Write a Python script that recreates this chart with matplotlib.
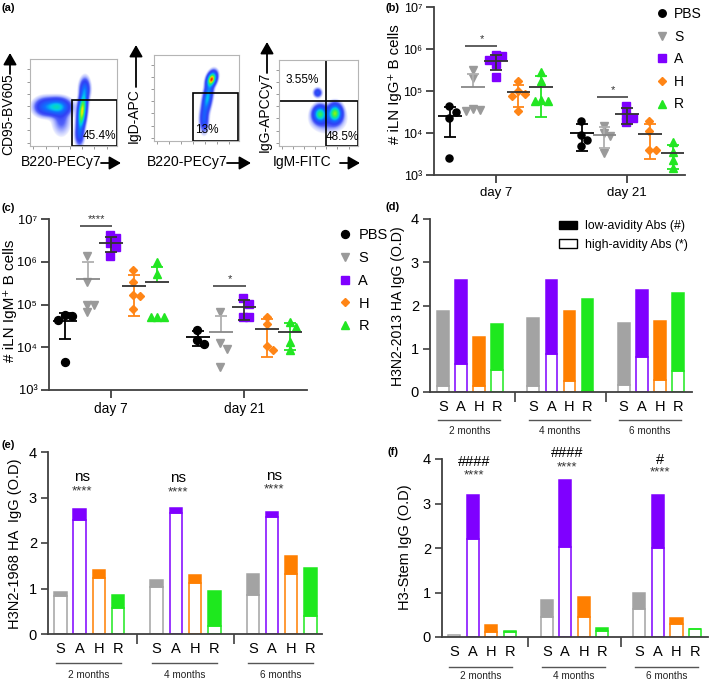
import numpy as np
import matplotlib
matplotlib.use("Agg")
import matplotlib.pyplot as plt
from matplotlib.lines import Line2D
from matplotlib.patches import Patch, Rectangle
from matplotlib.colors import LinearSegmentedColormap

plt.rcParams['font.family'] = ['Liberation Sans', 'DejaVu Sans']

# ======================= DATA =======================
# (a) flow cytometry gates
flow_percent = ["45.4%", "13%", "3.55%", "48.5%"]
# cluster descriptions: (cx, cy, sx, sy, angle_deg, weight)
flow1_clusters = [(0.31, 0.45, 0.085, 0.055, 0, 0.55), (0.16, 0.45, 0.07, 0.06, 0, 0.22),
                  (0.36, 0.30, 0.06, 0.10, 0, 0.10),
                  (0.60, 0.40, 0.028, 0.13, -6, 1.0), (0.63, 0.66, 0.035, 0.07, 0, 0.25),
                  (0.57, 0.12, 0.03, 0.07, 0, 0.18)]
flow2_clusters = [(0.68, 0.72, 0.03, 0.05, -20, 1.0), (0.63, 0.50, 0.03, 0.12, -10, 0.45),
                  (0.59, 0.24, 0.03, 0.08, 0, 0.2)]
flow3_clusters = [(0.52, 0.37, 0.05, 0.055, 0, 0.55), (0.71, 0.38, 0.05, 0.06, 0, 0.65),
                  (0.49, 0.62, 0.03, 0.03, 0, 0.18), (0.62, 0.30, 0.12, 0.08, 0, 0.08)]

# (b)/(c) cell counts
groups = ["PBS", "S", "A", "H", "R"]
days = ["day 7", "day 21"]
igg_day7 = [[4.3e4, 3.2e4, 2.3e4, 2.5e3],
            [3.2e5, 2.0e5, 3.6e4, 3.4e4, 3.8e4],
            [7.3e5, 6.7e5, 5.6e5, 4.3e5, 2.2e5],
            [1.7e5, 1.0e5, 8.5e4, 7.5e4, 3.3e4],
            [2.9e5, 1.7e5, 6.0e4, 5.7e4, 5.7e4]]
igg_day21 = [[1.9e4, 9.0e3, 7.0e3, 5.0e3],
             [1.5e4, 1.0e4, 8.5e3, 3.3e3],
             [4.5e4, 2.7e4, 2.3e4, 1.8e4],
             [1.9e4, 1.1e4, 4.0e3, 4.0e3],
             [6.0e3, 3.6e3, 2.3e3, 1.5e3]]
igm_day7 = [[5.8e4, 5.5e4, 4.3e4, 4.6e3],
            [1.4e6, 3.4e5, 1.0e5, 9.5e4, 6.8e4],
            [4.2e6, 3.5e6, 2.7e6, 2.2e6, 1.4e6],
            [6.4e5, 3.4e5, 1.7e5, 1.6e5, 7.7e4],
            [1.0e6, 5.3e5, 5.1e4, 5.1e4, 5.1e4]]
igm_day21 = [[2.5e4, 1.5e4, 1.2e4],
             [6.8e4, 1.26e4, 9.3e3, 3.4e3],
             [1.4e5, 1.05e5, 5.1e4, 5.0e4],
             [5.1e4, 3.5e4, 1.07e4, 8.5e3],
             [3.9e4, 3.0e4, 1.33e4, 8.4e3]]
igg_sig = ["*", "*"]
igg_sig_level = [1.15e6, 7.2e4]
igm_sig = ["****", "*"]
igm_sig_level = [6.9e6, 2.7e5]

# (d)(e)(f) avidity bars
vaccines = ["S", "A", "H", "R"]
months = ["2 months", "4 months", "6 months"]
h3n2_2013_total = [[1.88, 2.58, 1.27, 1.58], [1.72, 2.58, 1.88, 2.15], [1.59, 2.36, 1.65, 2.28]]
h3n2_2013_high = [[0.15, 0.65, 0.13, 0.50], [0.15, 0.88, 0.26, 0.03], [0.17, 0.80, 0.28, 0.49]]
h3n2_1968_total = [[0.92, 2.74, 1.41, 0.85], [1.19, 2.78, 1.30, 0.95], [1.31, 2.69, 1.72, 1.45]]
h3n2_1968_high = [[0.84, 2.50, 1.23, 0.57], [1.04, 2.67, 1.12, 0.18], [0.86, 2.58, 1.31, 0.40]]
stem_total = [[0.05, 3.20, 0.26, 0.13], [0.83, 3.52, 0.89, 0.21], [0.98, 3.19, 0.43, 0.19]]
stem_high = [[0.05, 2.20, 0.11, 0.11], [0.44, 2.02, 0.45, 0.13], [0.62, 2.00, 0.29, 0.17]]
h1968_low_sig = ["ns", "ns", "ns"]
h1968_high_sig = ["****", "****", "****"]
stem_low_sig = ["####", "####", "#"]
stem_high_sig = ["****", "****", "****"]

# ======================= STYLE =======================
W, H = 709, 680
fig = plt.figure(figsize=(W / 100, H / 100), dpi=100)

def rect(l, t, r, b):
    return [l / W, 1 - b / H, (r - l) / W, (b - t) / H]

ov = fig.add_axes([0, 0, 1, 1], zorder=10)
ov.set_xlim(0, W); ov.set_ylim(H, 0); ov.axis('off'); ov.patch.set_alpha(0)

gcolors = ['black', '#9a9a9a', '#7f00ff', '#ff8516', '#22e622']
gmarkers = ['o', 'v', 's', 'D', '^']
gms = [6, 6.5, 6, 4.8, 6.5]
mean_cols = ['black', '#888888', '#333333', '#333333', '#333333']
bar_cols = ['#a3a3a3', '#7f00ff', '#ff7f00', '#1ee81e']
axcol = '#404040'

# ---- panel labels
for lab, x, y in [("(a)", 2, 8), ("(b)", 385, 8), ("(c)", 2, 208), ("(d)", 385, 207), ("(e)", 2, 445), ("(f)", 387, 452)]:
    ov.text(x, y, lab, fontsize=8, weight='bold', va='center', ha='left')

# ======================= (a) FLOW =======================
fcmap = LinearSegmentedColormap.from_list('flow', [(0, '#8090ff'), (0.12, '#3040f5'), (0.3, '#1070ff'),
                                                   (0.42, '#00c8f0'), (0.56, '#10e890'), (0.7, '#60f030'),
                                                   (0.82, '#f0f000'), (1.0, '#ff1000')])

def flow_density(clusters, n=260):
    g = np.linspace(0, 1, n)
    X, Y = np.meshgrid(g, g)
    Z = np.zeros_like(X)
    for cx, cy, sx, sy, ang, w in clusters:
        a = np.deg2rad(ang)
        dx, dy = X - cx, Y - cy
        u = dx * np.cos(a) + dy * np.sin(a)
        v = -dx * np.sin(a) + dy * np.cos(a)
        Z += w * np.exp(-0.5 * ((u / sx) ** 2 + (v / sy) ** 2))
    return Z

def flow_axes(r, clusters, vscale):
    ax = fig.add_axes(rect(*r))
    Z = flow_density(clusters)
    Zn = Z / Z.max() / vscale
    rgba = fcmap(np.clip(Zn, 0, 1))
    thr = 0.012
    alpha = np.clip((Zn - thr) / 0.06, 0, 1) ** 0.8
    rgba[..., 3] = np.clip(alpha * 0.9 + 0.1 * (Zn > thr), 0, 1)
    ax.imshow(rgba, extent=[0, 1, 0, 1], origin='lower', interpolation='bilinear', aspect='auto')
    ax.set_xlim(0, 1); ax.set_ylim(0, 1)
    for s in ax.spines.values():
        s.set_color('#b5b5b5'); s.set_linewidth(0.8)
    tks = [0.04, 0.18, 0.32, 0.46, 0.6, 0.74, 0.88]
    ax.set_xticks(tks); ax.set_yticks(tks)
    ax.set_xticklabels([]); ax.set_yticklabels([])
    ax.tick_params(length=2.5, width=0.6, color='#888888')
    return ax

a1 = flow_axes((30, 59, 117, 146), flow1_clusters, 1.2)
a1.add_patch(Rectangle((0.48, 0.0), 0.515, 0.53, fill=False, ec='black', lw=1.2))
a1.text(0.80, 0.12, flow_percent[0], fontsize=8.5, ha='center', va='center')

a2 = flow_axes((154, 55, 239, 141), flow2_clusters, 1.0)
a2.add_patch(Rectangle((0.46, 0.0), 0.53, 0.56, fill=False, ec='black', lw=1.2))
a2.text(0.62, 0.13, flow_percent[1], fontsize=8.5, ha='center', va='center')

a3 = flow_axes((279, 60, 358, 146), flow3_clusters, 1.35)
a3.add_patch(Rectangle((0.0, 0.52), 0.59, 0.48, fill=False, ec='black', lw=1.2))
a3.add_patch(Rectangle((0.59, 0.0), 0.41, 0.52, fill=False, ec='black', lw=1.2))
a3.text(0.29, 0.77, flow_percent[2], fontsize=8.5, ha='center', va='center')
a3.text(0.80, 0.10, flow_percent[3], fontsize=8.5, ha='center', va='center')

arrow_kw = dict(arrowstyle='-|>,head_length=0.7,head_width=0.4', color='black', lw=1.3, shrinkA=0, shrinkB=0)
# x labels
for txt, cx, x0, x1 in [("B220-PECy7", 61, 101, 121), ("B220-PECy7", 187, 227, 251), ("IgM-FITC", 302, 340, 360)]:
    ov.text(cx, 162, txt, fontsize=10, ha='center', va='center')
    ov.annotate('', xy=(x1, 163), xytext=(x0, 163), arrowprops=arrow_kw)
# y labels
for txt, x, cy, y0, y1 in [("CD95-BV605", 8, 114, 74, 53), ("IgD-APC", 134, 116, 87, 45), ("IgG-APCCy7", 265, 112, 73, 42)]:
    ov.text(x, cy, txt, fontsize=10, ha='center', va='center', rotation=90)
    ov.annotate('', xy=(x + 2, y1), xytext=(x + 2, y0), arrowprops=arrow_kw)

# ======================= (b) (c) SCATTER =======================
def swarm(logv, step, dlog):
    order = np.argsort(-np.asarray(logv))
    offs = np.zeros(len(logv))
    placed = []
    for idx in order:
        v = logv[idx]
        for k in [0, 1, -1, 2, -2, 3, -3]:
            o = k * step
            if all(abs(o - po) > step * 0.9 or abs(v - pv) > dlog for po, pv in placed):
                break
        offs[idx] = o
        placed.append((o, v))
    return offs

def scatter_panel(r, datasets, sig, sig_level, ms_scale, fs):
    ax = fig.add_axes(rect(*r))
    ax.set_yscale('log')
    ax.set_ylim(1e3, 1e7)
    off = np.array([-2, -1, 0, 1, 2]) * 0.173
    for d, data in enumerate(datasets):
        c = d + 1
        for gi, vals in enumerate(data):
            vals = np.asarray(vals)
            x0 = c + off[gi]
            xs = swarm(np.log10(vals), 0.05, 0.16)
            ax.plot(x0 + xs - np.mean(xs) * 0.5, vals, ls='none', marker=gmarkers[gi], color=gcolors[gi],
                    ms=gms[gi] * ms_scale, mec=gcolors[gi], zorder=3)
            m = vals.mean(); s = vals.std(ddof=1)
            ec = gcolors[gi] if gi != 2 else '#333333'
            if gi == 1:
                ec = '#b0b0b0'
            ax.vlines(x0, m, m + s, color=ec, lw=1.3, zorder=4)
            ax.hlines(m + s, x0 - 0.045, x0 + 0.045, color=ec, lw=1.3, zorder=4)
            if m - s > 0:
                ax.vlines(x0, m - s, m, color=ec, lw=1.3, zorder=4)
                ax.hlines(m - s, x0 - 0.045, x0 + 0.045, color=ec, lw=1.3, zorder=4)
            ax.hlines(m, x0 - 0.09, x0 + 0.09, color=mean_cols[gi], lw=1.3, zorder=5)
        # significance between S and A
        ax.hlines(sig_level[d], c + off[1] - 0.06, c + off[2] + 0.01, color='#333333', lw=1.1)
        ax.text(c + (off[1] + off[2]) / 2 - 0.02, sig_level[d] * 1.12, sig[d], ha='center', va='bottom',
                fontsize=8, color='#333333')
    ax.set_xticks([1, 2])
    ax.set_xticklabels(days)
    ax.set_yticks([1e3, 1e4, 1e5, 1e6, 1e7])
    ax.set_yticklabels(['10³', '10⁴', '10⁵', '10⁶', '10⁷'])
    ax.minorticks_off()
    for s in ['top', 'right']:
        ax.spines[s].set_visible(False)
    for s in ['left', 'bottom']:
        ax.spines[s].set_color(axcol); ax.spines[s].set_linewidth(1.3)
    ax.tick_params(length=6, width=1.3, color=axcol, labelsize=fs, pad=2.5)
    ax.tick_params(axis='x', labelsize=fs + 0.5)
    return ax

b_ax = scatter_panel((434, 7, 685, 175), [igg_day7, igg_day21], igg_sig, igg_sig_level, 0.85, 9)
b_ax.set_xlim(0.53, 2.44)
ov.text(395, 84, "# iLN IgG⁺ B cells", fontsize=10.8, rotation=90, ha='center', va='center')

c_ax = scatter_panel((49, 219, 307, 390), [igm_day7, igm_day21], igm_sig, igm_sig_level, 0.95, 9.3)
c_ax.set_xlim(0.534, 2.47)
ov.text(10, 301, "# iLN IgM⁺ B cells", fontsize=11, rotation=90, ha='center', va='center')

def marker_handles(scale):
    return [Line2D([], [], ls='none', marker=gmarkers[i], color=gcolors[i], ms=gms[i] * scale) for i in range(5)]

fig.legend(marker_handles(0.9), groups, loc='upper left', bbox_to_anchor=(649 / W, 1 - 0 / H),
           frameon=False, fontsize=10, handlelength=0.8, handletextpad=0.5, labelspacing=0.62, borderpad=0)
fig.legend(marker_handles(0.95), groups, loc='upper left', bbox_to_anchor=(332 / W, 1 - 221 / H),
           frameon=False, fontsize=10.5, handlelength=0.8, handletextpad=0.5, labelspacing=0.6, borderpad=0)

# ======================= (d)(e)(f) BARS =======================
def bar_panel(r, totals, highs, xlim, under_px, label_px):
    ax = fig.add_axes(rect(*r))
    for g in range(3):
        for i in range(4):
            x = g * 5 + i
            ax.bar(x, highs[g][i], width=0.65, color='white', edgecolor=bar_cols[i], lw=1.1, zorder=2)
            top = totals[g][i] - highs[g][i]
            if top > 0.005:
                ax.bar(x, top, bottom=highs[g][i], width=0.65, color=bar_cols[i],
                       edgecolor=bar_cols[i], lw=1.1, zorder=2)
    ax.set_ylim(0, 4)
    ax.set_xlim(*xlim)
    ax.set_yticks([0, 1, 2, 3, 4])
    ax.set_xticks([4, 9])
    ax.set_xticklabels([])
    pos = [g * 5 + i for g in range(3) for i in range(4)]
    ax.set_xticks(pos, minor=True)
    ax.set_xticklabels(vaccines * 3, minor=True)
    ax.tick_params(axis='x', which='minor', length=0, pad=6, labelsize=10.5)
    ax.tick_params(axis='x', which='major', length=7, width=1.2, color=axcol)
    ax.tick_params(axis='y', length=5, width=1.2, color=axcol, labelsize=10.5, pad=3)
    for s in ['top', 'right']:
        ax.spines[s].set_visible(False)
    for s in ['left', 'bottom']:
        ax.spines[s].set_color(axcol); ax.spines[s].set_linewidth(1.3)
    hpx = r[3] - r[1]
    tr = ax.get_xaxis_transform()
    for g in range(3):
        ax.plot([g * 5 - 0.25, g * 5 + 3.15], [-under_px / hpx] * 2, transform=tr, color='#555555',
                lw=1.0, clip_on=False)
        ax.text(g * 5 + 1.45, -label_px / hpx, months[g], transform=tr, ha='center', va='center',
                fontsize=7.2, color='#222222')
    return ax

d_ax = bar_panel((430, 219, 692, 392), h3n2_2013_total, h3n2_2013_high, (-0.72, 13.78), 28, 39)
ov.text(398, 306, "H3N2-2013 HA IgG (O.D)", fontsize=10.2, rotation=90, ha='center', va='center')
fig.legend([Patch(facecolor='black', edgecolor='black'), Patch(facecolor='white', edgecolor='black')],
           ["low-avidity Abs (#)", "high-avidity Abs (*)"], loc='upper left',
           bbox_to_anchor=(553 / W, 1 - 214 / H), frameon=False, fontsize=8.8, handlelength=1.5,
           handleheight=0.7, handletextpad=0.6, labelspacing=0.55, borderpad=0)

e_ax = bar_panel((48, 452, 322, 634), h3n2_1968_total, h3n2_1968_high, (-0.65, 13.6), 29, 41)
ov.text(15, 544, "H3N2-1968 HA  IgG (O.D)", fontsize=10.5, rotation=90, ha='center', va='center')
e_low_y = [3.45, 3.42, 3.47]
e_high_y = [3.14, 3.11, 3.17]
for g in range(3):
    e_ax.text(g * 5 + 1.1, e_low_y[g], h1968_low_sig[g], ha='center', va='center', fontsize=11)
    e_ax.text(g * 5 + 1.1, e_high_y[g], h1968_high_sig[g], ha='center', va='center', fontsize=9.5,
              color='#333333')

f_ax = bar_panel((442, 459, 708, 637), stem_total, stem_high, (-0.65, 13.7), 30, 39)
ov.text(405, 547, "H3-Stem IgG (O.D)", fontsize=10.5, rotation=90, ha='center', va='center')
f_low_y = [3.93, 4.13, 3.98]
f_high_y = [3.64, 3.80, 3.69]
for g in range(3):
    f_ax.text(g * 5 + 1.1, f_low_y[g], stem_low_sig[g], ha='center', va='center', fontsize=10.5,
              clip_on=False)
    f_ax.text(g * 5 + 1.1, f_high_y[g], stem_high_sig[g], ha='center', va='center', fontsize=9.5,
              color='#333333', clip_on=False)

fig.savefig("out.png", dpi=100)
